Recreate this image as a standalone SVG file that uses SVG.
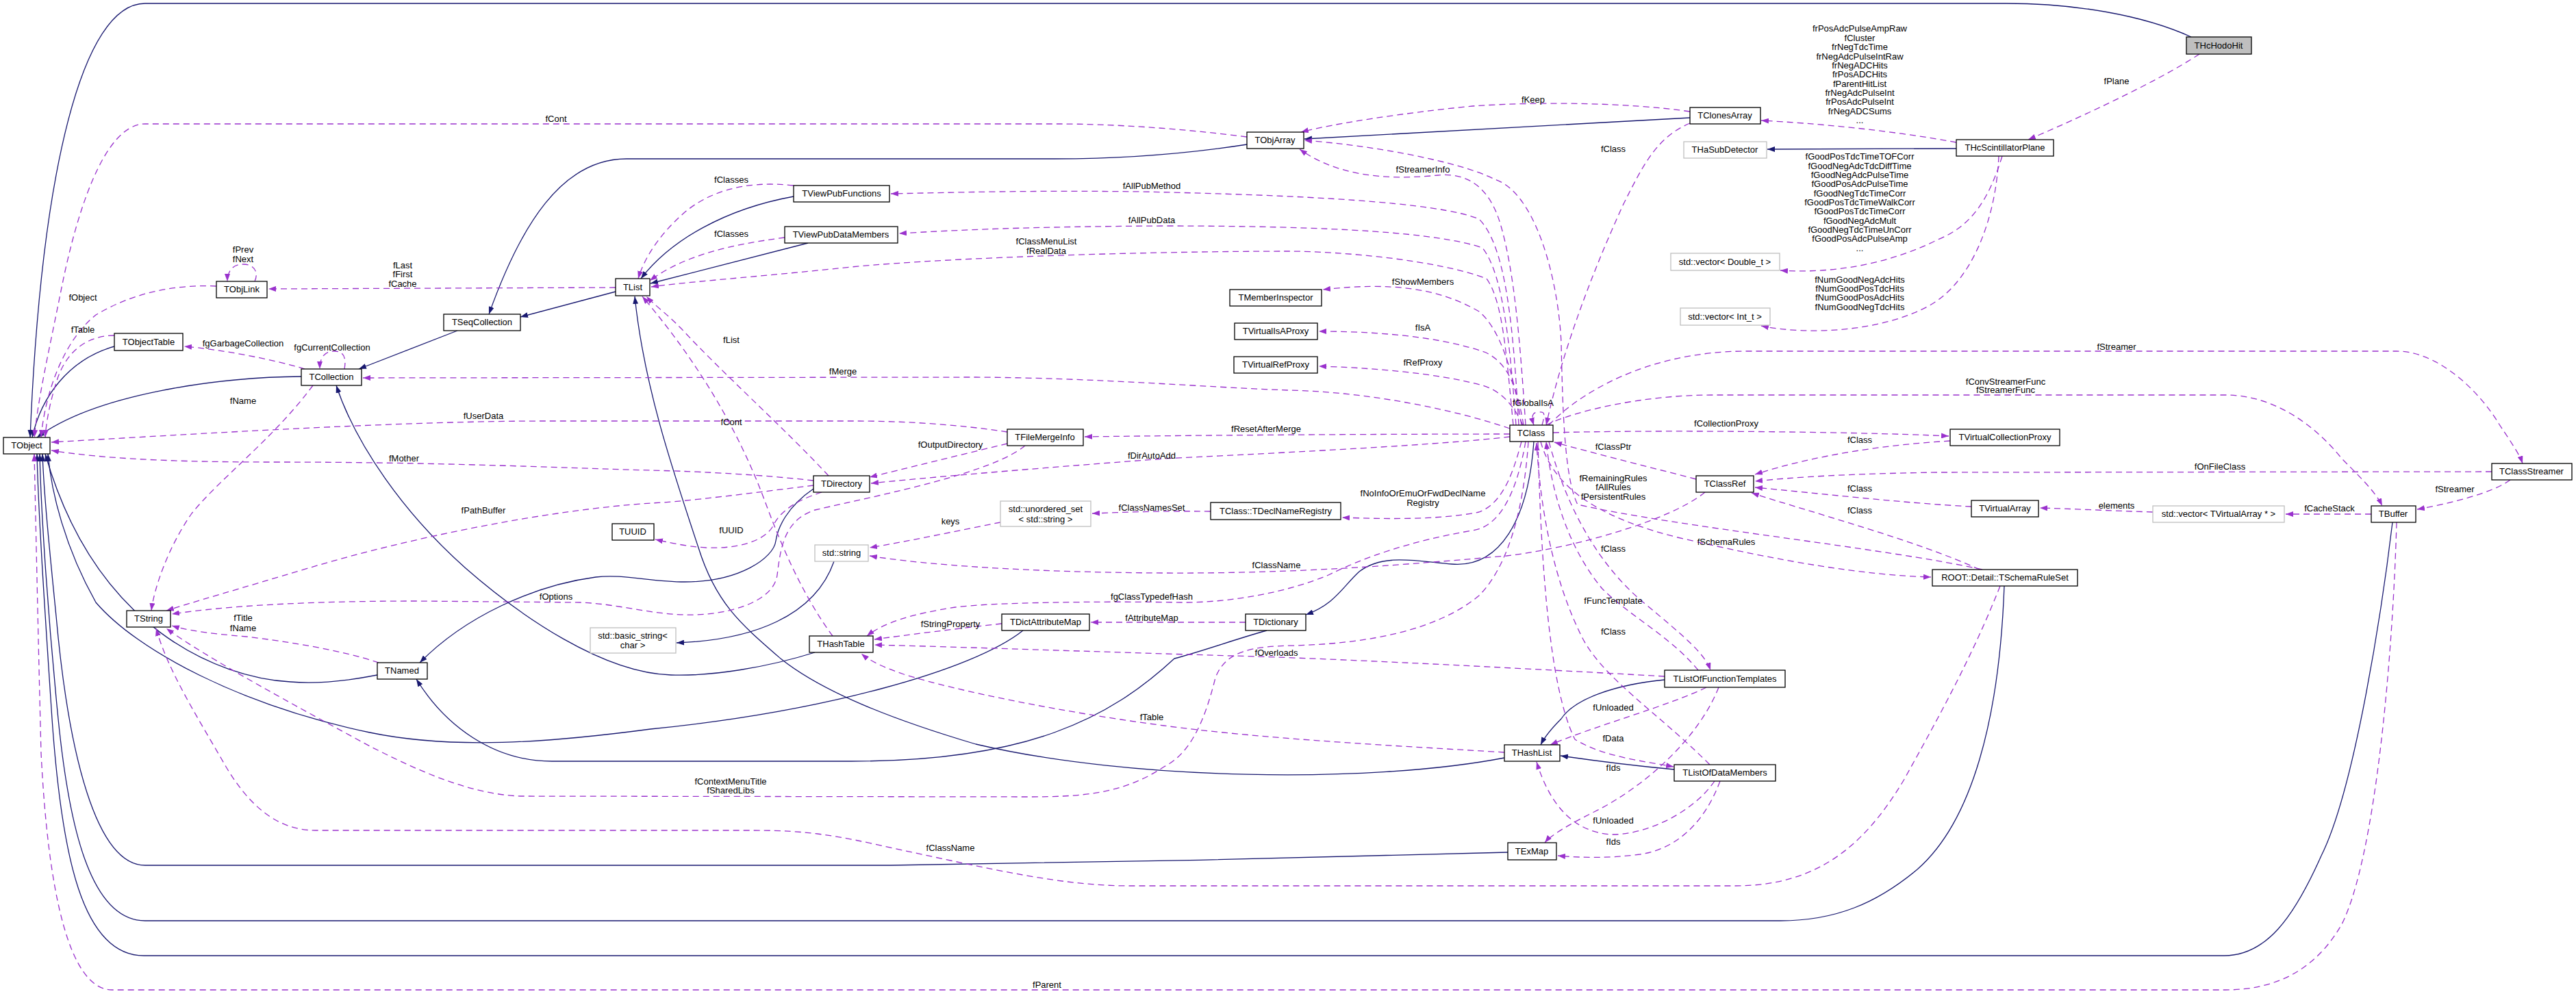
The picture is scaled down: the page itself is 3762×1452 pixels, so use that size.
<svg xmlns="http://www.w3.org/2000/svg" width="3762" height="1452" viewBox="0 0 3762 1452">
<defs>
<marker id="ab" markerUnits="userSpaceOnUse" markerWidth="11" markerHeight="8" refX="11" refY="4" orient="auto"><path d="M0,0 L11,4 L0,8 z" fill="#191970"/></marker>
<marker id="ap" markerUnits="userSpaceOnUse" markerWidth="11" markerHeight="8" refX="11" refY="4" orient="auto"><path d="M0,0 L11,4 L0,8 z" fill="#9a32cd"/></marker>
</defs>
<style>
text{font-family:"Liberation Sans",Arial,sans-serif;font-size:13px;fill:#000;text-anchor:middle}
.n rect{fill:#fff;stroke:#000;stroke-width:1.3}
.g rect{fill:#fff;stroke:#bfbfbf;stroke-width:1.3}
.inh{fill:none;stroke:#191970;stroke-width:1.3;marker-end:url(#ab)}
.use{fill:none;stroke:#9a32cd;stroke-width:1.3;stroke-dasharray:9,6;marker-end:url(#ap)}
</style>
<rect width="3762" height="1452" fill="#fff"/>
<g id="edges">
<path class="inh" d="M3200,54 C3130,22 3030,5 2930,5 L212,5 C120,5 60,250 44,639"/>
<path class="inh" d="M1821,211 C1750,222 1650,232 1540,232 L915,232 C820,232 760,330 714,459"/>
<path class="inh" d="M2468,172 L1905,203"/>
<path class="inh" d="M2857,217 L2581,218"/>
<path class="inh" d="M668,483 L524,539"/>
<path class="inh" d="M899,426 L760,463"/>
<path class="inh" d="M1159,287 C1060,305 980,350 936,407"/>
<path class="inh" d="M1180,355 L950,414"/>
<path class="inh" d="M440,550 C320,551 140,575 54,639"/>
<path class="inh" d="M167,506 C100,525 60,580 47,639"/>
<path class="inh" d="M2240,645 C2232,760 2190,830 2120,824 C2070,820 2020,808 1985,835 C1960,858 1950,882 1907,898"/>
<path class="inh" d="M1850,921 C1800,935 1760,950 1715,962 C1620,1050 1500,1112 1243,1112 L806,1112 C720,1112 650,1060 608,992"/>
<path class="inh" d="M551,986 C500,996 460,999 424,996 C320,990 140,920 66,663"/>
<path class="inh" d="M1188,714 C1150,740 1136,770 1133,790 C1130,815 1080,850 1000,850 C950,850 910,838 870,843 C780,855 680,900 613,968"/>
<path class="inh" d="M1190,953 C1120,975 1040,988 980,986 C880,983 760,900 680,830 C590,750 520,650 491,563"/>
<path class="inh" d="M2197,1107 C2000,1145 1650,1140 1425,1087 C1300,1050 1200,1010 1140,962 C1080,910 1045,880 1020,800 C980,680 940,560 927,433"/>
<path class="inh" d="M2431,993 C2360,1000 2300,1020 2280,1050 C2265,1065 2255,1078 2250,1088"/>
<path class="inh" d="M2445,1124 C2380,1118 2320,1110 2279,1104"/>
<path class="inh" d="M2202,1245 C2000,1252 1500,1262 1300,1264 L212,1264 C140,1264 100,1100 82,900 C72,800 64,720 62,663"/>
<path class="inh" d="M1218,820 C1190,900 1100,935 988,939"/>
<path class="inh" d="M2927,856 C2920,1050 2880,1200 2800,1270 C2740,1320 2680,1345 2600,1345 L212,1345 C130,1345 100,1200 85,1050 C70,900 60,750 58,663"/>
<path class="inh" d="M3494,763 C3480,880 3440,1150 3390,1250 C3350,1340 3310,1396 3248,1396 L210,1396 C120,1396 90,1250 76,1050 C66,900 56,750 54,663"/>
<path class="inh" d="M1494,921 C1420,980 1200,1040 950,1065 C800,1085 660,1095 540,1070 C350,1030 200,950 140,880 C95,800 75,720 70,663"/>

<path class="use" d="M3212,79 C3150,120 3030,175 2962,204"/>
<path class="use" d="M2857,208 C2760,190 2650,180 2572,176"/>
<path class="use" d="M2924,228 C2905,290 2880,330 2830,350 C2760,385 2680,400 2600,395"/>
<path class="use" d="M2919,228 C2915,320 2880,410 2820,445 C2750,485 2640,490 2572,476"/>
<path class="use" d="M2468,163 C2380,150 2250,148 2150,155 C2050,165 1950,180 1900,193"/>
<path class="use" d="M2468,180 C2420,200 2400,240 2370,300 C2320,410 2280,520 2258,621"/>
<path class="use" d="M2228,621 C2220,500 2212,400 2192,330 C2175,270 2140,252 2100,256 C2040,262 1960,262 1898,218"/>
<path class="use" d="M2895,832 C2750,800 2450,770 2304,737 C2285,700 2282,600 2280,500 C2275,400 2240,280 2183,262 C2130,235 2000,212 1905,205"/>
<path class="use" d="M1821,200 C1720,187 1620,181 1546,181 L212,181 C150,181 110,320 90,420 C70,520 56,580 50,639"/>
<path class="use" d="M1159,271 C1080,262 1030,285 1000,310 C960,345 940,380 932,407"/>
<path class="use" d="M1146,347 C1070,357 1000,372 949,410"/>
<path class="use" d="M2218,621 C2210,480 2200,360 2160,320 C2100,295 1900,285 1667,280 C1500,278 1400,281 1301,283"/>
<path class="use" d="M2214,621 C2205,500 2195,400 2165,362 C2100,340 1950,330 1700,330 C1500,331 1400,336 1313,341"/>
<path class="use" d="M2210,621 C2200,520 2195,440 2171,407 C2100,380 1960,367 1880,367 C1700,367 1400,375 1243,390 C1100,405 1000,412 951,419"/>
<path class="use" d="M2222,621 C2210,540 2190,480 2160,455 C2100,420 2030,412 1932,423"/>
<path class="use" d="M2225,621 C2215,560 2200,530 2170,515 C2100,490 2000,484 1926,484"/>
<path class="use" d="M2224,621 C2210,590 2190,570 2165,563 C2100,545 2000,537 1926,535"/>
<path class="use" d="M2252,621 C2258,600 2254,602 2246,602 C2238,602 2236,608 2240,621"/>
<path class="use" d="M2205,626 C2130,600 2000,572 1880,570 C1750,565 1600,552 1425,551 L530,552"/>
<path class="use" d="M2205,634 C2100,634 1800,635 1584,638"/>
<path class="use" d="M2205,638 C2100,650 1900,660 1700,670 C1500,685 1350,698 1272,706"/>
<path class="use" d="M1471,648 C1400,665 1320,685 1270,697"/>
<path class="use" d="M1471,631 C1400,620 1320,615 1250,615 L800,615 C600,615 350,630 75,646"/>
<path class="use" d="M1188,702 C1100,692 1000,688 950,687 C800,683 650,675 400,675 C250,675 150,670 75,658"/>
<path class="use" d="M1188,709 C1100,720 1000,733 950,735 C800,745 600,785 450,830 C350,860 280,880 243,892"/>
<path class="use" d="M1210,695 C1150,630 1050,540 995,480 C970,455 955,445 944,433"/>
<path class="use" d="M1216,929 C1180,880 1150,820 1120,740 C1080,630 1020,530 938,433"/>
<path class="use" d="M1200,719 C1150,735 1135,755 1128,770 C1115,790 1080,802 1031,800 C1000,798 975,792 957,788"/>
<path class="use" d="M1497,651 C1450,690 1300,720 1190,745 C1145,760 1140,800 1135,840 C1130,880 1060,900 1000,898 C950,897 900,882 848,880 L606,878 C450,878 330,885 251,897"/>
<path class="use" d="M457,563 C400,640 320,700 280,750 C245,800 225,860 221,892"/>
<path class="use" d="M445,539 C400,525 320,510 269,506"/>
<path class="use" d="M503,539 C506,522 502,513 488,513 C474,513 467,522 467,539"/>
<path class="use" d="M167,490 C130,490 100,510 85,550 C75,580 68,610 66,639"/>
<path class="use" d="M316,418 C250,415 190,430 140,460 C90,500 65,580 60,639"/>
<path class="use" d="M899,420 L392,422"/>
<path class="use" d="M372,411 C378,398 372,386 355,386 C340,386 332,396 332,411"/>
<path class="use" d="M553,968 C500,950 420,937 360,930 C300,925 270,920 251,914"/>
<path class="use" d="M2921,856 C2880,960 2830,1050 2780,1140 C2720,1240 2650,1294 2534,1294 L1650,1294 C1550,1294 1450,1270 1304,1239 C1220,1220 1180,1213 1100,1213 L461,1213 C400,1213 360,1170 330,1120 C290,1050 245,980 228,918"/>
<path class="use" d="M2232,645 C2225,750 2200,830 2160,870 C2100,920 2000,940 1890,943 C1830,944 1790,950 1775,990 C1760,1050 1740,1100 1700,1120 C1640,1160 1580,1164 1500,1164 L760,1163 C680,1160 600,1120 540,1090 C430,1030 300,960 243,918"/>
<path class="use" d="M2228,645 C2215,720 2190,770 2150,775 C2060,790 1990,815 1940,840 C1880,865 1800,880 1728,880 C1600,878 1450,880 1395,887 C1330,897 1290,910 1266,929"/>
<path class="use" d="M1463,911 C1400,918 1320,928 1277,934"/>
<path class="use" d="M1819,909 L1593,909"/>
<path class="use" d="M2431,988 C2200,975 1950,962 1800,958 C1600,952 1400,945 1277,942"/>
<path class="use" d="M2197,1099 C2050,1090 1850,1080 1700,1060 C1550,1040 1400,1010 1320,985 C1290,975 1270,965 1258,955"/>
<path class="use" d="M2492,1004 C2440,1030 2330,1060 2264,1088"/>
<path class="use" d="M2246,645 C2250,800 2260,1000 2300,1080 C2340,1105 2400,1112 2444,1120"/>
<path class="use" d="M2262,645 C2290,750 2340,830 2400,880 C2460,930 2490,955 2498,979"/>
<path class="use" d="M2480,979 C2440,930 2380,900 2340,860 C2290,800 2266,720 2258,645"/>
<path class="use" d="M2510,1004 C2480,1080 2400,1150 2330,1185 C2290,1205 2265,1220 2256,1231"/>
<path class="use" d="M2504,1141 C2470,1190 2400,1220 2353,1219 C2300,1215 2265,1180 2244,1113"/>
<path class="use" d="M2512,1141 C2490,1200 2450,1240 2395,1248 C2350,1254 2310,1253 2275,1250"/>
<path class="use" d="M2497,1117 C2420,1040 2340,990 2310,930 C2270,850 2250,750 2244,647"/>
<path class="use" d="M2477,700 C2400,680 2320,660 2270,646"/>
<path class="use" d="M2268,632 C2400,628 2700,630 2846,637"/>
<path class="use" d="M2848,644 C2750,650 2650,665 2563,693"/>
<path class="use" d="M3639,689 L2830,690 C2700,692 2620,697 2563,703"/>
<path class="use" d="M2879,740 C2780,735 2650,720 2563,712"/>
<path class="use" d="M2891,832 C2800,790 2650,750 2558,720"/>
<path class="use" d="M2250,645 C2270,720 2350,760 2450,785 C2600,820 2720,840 2820,843"/>
<path class="use" d="M2262,621 C2300,580 2400,513 2550,513 L3500,513 C3560,513 3620,570 3650,620 C3670,650 3680,665 3684,677"/>
<path class="use" d="M2258,621 C2300,600 2400,577 2500,577 L3250,577 C3320,577 3380,620 3420,670 C3450,700 3470,720 3479,739"/>
<path class="use" d="M3666,701 C3640,720 3580,735 3530,744"/>
<path class="use" d="M3463,751 L3338,751"/>
<path class="use" d="M3144,748 C3080,746 3020,743 2979,742"/>
<path class="use" d="M3500,763 C3495,950 3470,1250 3420,1350 C3380,1420 3320,1446 3250,1446 L164,1446 C100,1446 70,1300 60,1100 C55,900 52,750 50,663"/>
<path class="use" d="M2222,645 C2210,690 2195,735 2160,748 C2100,760 2020,758 1960,756"/>
<path class="use" d="M1768,747 C1700,746 1650,748 1595,750"/>
<path class="use" d="M1461,763 C1400,775 1330,790 1270,800"/>
<path class="use" d="M2490,719 C2440,760 2300,800 2200,812 C2050,825 1900,838 1700,837 C1500,836 1350,825 1270,812"/>
</g>
<g id="edge-labels">
<text x="812" y="178">fCont</text>
<text x="355" y="369">fPrev</text><text x="355" y="383">fNext</text>
<text x="588" y="392">fLast</text><text x="588" y="405">fFirst</text><text x="588" y="419">fCache</text>
<text x="121" y="439">fObject</text>
<text x="121" y="486">fTable</text>
<text x="1068" y="267">fClasses</text>
<text x="1068" y="346">fClasses</text>
<text x="1682" y="276">fAllPubMethod</text>
<text x="1682" y="326">fAllPubData</text>
<text x="1528" y="357">fClassMenuList</text><text x="1528" y="371">fRealData</text>
<text x="2239" y="150">fKeep</text>
<text x="2356" y="222">fClass</text>
<text x="2078" y="252">fStreamerInfo</text>
<text x="2078" y="416">fShowMembers</text>
<text x="2078" y="483">fIsA</text>
<text x="2716" y="46">frPosAdcPulseAmpRaw</text>
<text x="2716" y="60">fCluster</text>
<text x="2716" y="73">frNegTdcTime</text>
<text x="2716" y="87">frNegAdcPulseIntRaw</text>
<text x="2716" y="100">frNegADCHits</text>
<text x="2716" y="113">frPosADCHits</text>
<text x="2716" y="127">fParentHitList</text>
<text x="2716" y="140">frNegAdcPulseInt</text>
<text x="2716" y="153">frPosAdcPulseInt</text>
<text x="2716" y="167">frNegADCSums</text>
<text x="2716" y="180">...</text>
<text x="2716" y="233">fGoodPosTdcTimeTOFCorr</text>
<text x="2716" y="247">fGoodNegAdcTdcDiffTime</text>
<text x="2716" y="260">fGoodNegAdcPulseTime</text>
<text x="2716" y="273">fGoodPosAdcPulseTime</text>
<text x="2716" y="287">fGoodNegTdcTimeCorr</text>
<text x="2716" y="300">fGoodPosTdcTimeWalkCorr</text>
<text x="2716" y="313">fGoodPosTdcTimeCorr</text>
<text x="2716" y="327">fGoodNegAdcMult</text>
<text x="2716" y="340">fGoodNegTdcTimeUnCorr</text>
<text x="2716" y="353">fGoodPosAdcPulseAmp</text>
<text x="2716" y="367">...</text>
<text x="2716" y="413">fNumGoodNegAdcHits</text>
<text x="2716" y="426">fNumGoodPosTdcHits</text>
<text x="2716" y="439">fNumGoodPosAdcHits</text>
<text x="2716" y="453">fNumGoodNegTdcHits</text>
<text x="3091" y="123">fPlane</text>
<text x="355" y="506">fgGarbageCollection</text>
<text x="485" y="512">fgCurrentCollection</text>
<text x="355" y="590">fName</text>
<text x="706" y="612">fUserData</text>
<text x="590" y="674">fMother</text>
<text x="706" y="750">fPathBuffer</text>
<text x="812" y="876">fOptions</text>
<text x="355" y="907">fTitle</text><text x="355" y="922">fName</text>
<text x="1068" y="501">fList</text>
<text x="1231" y="547">fMerge</text>
<text x="1068" y="621">fCont</text>
<text x="1849" y="631">fResetAfterMerge</text>
<text x="1388" y="654">fOutputDirectory</text>
<text x="1682" y="670">fDirAutoAdd</text>
<text x="1682" y="746">fClassNamesSet</text>
<text x="1388" y="766">keys</text>
<text x="1068" y="779">fUUID</text>
<text x="1864" y="830">fClassName</text>
<text x="1682" y="876">fgClassTypedefHash</text>
<text x="1388" y="916">fStringProperty</text>
<text x="1682" y="907">fAttributeMap</text>
<text x="1864" y="958">fOverloads</text>
<text x="2078" y="534">fRefProxy</text>
<text x="2239" y="593">fGlobalIsA</text>
<text x="2521" y="623">fCollectionProxy</text>
<text x="2356" y="657">fClassPtr</text>
<text x="2716" y="647">fClass</text>
<text x="2356" y="703">fRemainingRules</text><text x="2356" y="716">fAllRules</text><text x="2356" y="730">fPersistentRules</text>
<text x="2716" y="718">fClass</text>
<text x="2716" y="750">fClass</text>
<text x="2078" y="725">fNoInfoOrEmuOrFwdDeclName</text><text x="2078" y="739">Registry</text>
<text x="2521" y="796">fSchemaRules</text>
<text x="2356" y="806">fClass</text>
<text x="2356" y="882">fFuncTemplate</text>
<text x="2356" y="927">fClass</text>
<text x="3091" y="511">fStreamer</text>
<text x="2929" y="562">fConvStreamerFunc</text><text x="2929" y="574">fStreamerFunc</text>
<text x="3242" y="686">fOnFileClass</text>
<text x="3585" y="719">fStreamer</text>
<text x="3091" y="743">elements</text>
<text x="3402" y="747">fCacheStack</text>
<text x="2356" y="1038">fUnloaded</text>
<text x="2356" y="1083">fData</text>
<text x="2356" y="1126">fIds</text>
<text x="2356" y="1203">fUnloaded</text>
<text x="2356" y="1234">fIds</text>
<text x="1067" y="1146">fContextMenuTitle</text><text x="1067" y="1159">fSharedLibs</text>
<text x="1682" y="1052">fTable</text>
<text x="1388" y="1243">fClassName</text>
<text x="1529" y="1443">fParent</text>
</g>
<g id="node-THcHodoHit" class="n"><rect x="3193" y="54" width="95" height="25" style="fill:#bfbfbf"/><text x="3240" y="71">THcHodoHit</text></g>
<g id="node-THcScintillatorPlane" class="n"><rect x="2857" y="204" width="142" height="24"/><text x="2928" y="220">THcScintillatorPlane</text></g>
<g id="node-TClonesArray" class="n"><rect x="2468" y="157" width="103" height="24"/><text x="2519" y="173">TClonesArray</text></g>
<g id="node-THaSubDetector" class="g"><rect x="2459" y="207" width="121" height="24"/><text x="2519" y="223">THaSubDetector</text></g>
<g id="node-vecDouble" class="g"><rect x="2440" y="370" width="159" height="25"/><text x="2519" y="387">std::vector&lt; Double_t &gt;</text></g>
<g id="node-vecInt" class="g"><rect x="2454" y="450" width="131" height="25"/><text x="2519" y="467">std::vector&lt; Int_t &gt;</text></g>
<g id="node-TObjArray" class="n"><rect x="1821" y="193" width="83" height="24"/><text x="1862" y="209">TObjArray</text></g>
<g id="node-TViewPubFunctions" class="n"><rect x="1159" y="271" width="140" height="24"/><text x="1229" y="287">TViewPubFunctions</text></g>
<g id="node-TViewPubDataMembers" class="n"><rect x="1146" y="331" width="165" height="24"/><text x="1228" y="347">TViewPubDataMembers</text></g>
<g id="node-TMemberInspector" class="n"><rect x="1796" y="423" width="134" height="24"/><text x="1863" y="439">TMemberInspector</text></g>
<g id="node-TVirtualIsAProxy" class="n"><rect x="1803" y="472" width="121" height="24"/><text x="1863" y="488">TVirtualIsAProxy</text></g>
<g id="node-TVirtualRefProxy" class="n"><rect x="1802" y="521" width="122" height="24"/><text x="1863" y="537">TVirtualRefProxy</text></g>
<g id="node-TObjLink" class="n"><rect x="316" y="411" width="74" height="24"/><text x="353" y="427">TObjLink</text></g>
<g id="node-TList" class="n"><rect x="899" y="407" width="50" height="25"/><text x="924" y="424">TList</text></g>
<g id="node-TSeqCollection" class="n"><rect x="648" y="459" width="112" height="24"/><text x="704" y="475">TSeqCollection</text></g>
<g id="node-TObjectTable" class="n"><rect x="167" y="487" width="100" height="25"/><text x="217" y="504">TObjectTable</text></g>
<g id="node-TCollection" class="n"><rect x="440" y="539" width="88" height="24"/><text x="484" y="555">TCollection</text></g>
<g id="node-TObject" class="n"><rect x="5" y="639" width="68" height="24"/><text x="39" y="655">TObject</text></g>
<g id="node-TString" class="n"><rect x="185" y="892" width="64" height="24"/><text x="217" y="908">TString</text></g>
<g id="node-TUUID" class="n"><rect x="894" y="765" width="61" height="24"/><text x="924" y="781">TUUID</text></g>
<g id="node-basic_string" class="g"><rect x="862" y="917" width="125" height="37"/><text x="924" y="933">std::basic_string&lt;</text><text x="924" y="947">char &gt;</text></g>
<g id="node-TNamed" class="n"><rect x="551" y="968" width="73" height="24"/><text x="587" y="984">TNamed</text></g>
<g id="node-TFileMergeInfo" class="n"><rect x="1471" y="627" width="111" height="24"/><text x="1526" y="643">TFileMergeInfo</text></g>
<g id="node-TDirectory" class="n"><rect x="1188" y="695" width="82" height="24"/><text x="1229" y="711">TDirectory</text></g>
<g id="node-unordered_set" class="g"><rect x="1461" y="732" width="132" height="37"/><text x="1527" y="748">std::unordered_set</text><text x="1527" y="763">&lt; std::string &gt;</text></g>
<g id="node-TDeclNameRegistry" class="n"><rect x="1768" y="734" width="190" height="25"/><text x="1863" y="751">TClass::TDeclNameRegistry</text></g>
<g id="node-std_string" class="g"><rect x="1190" y="796" width="78" height="24"/><text x="1229" y="812">std::string</text></g>
<g id="node-TDictAttributeMap" class="n"><rect x="1463" y="897" width="128" height="24"/><text x="1527" y="913">TDictAttributeMap</text></g>
<g id="node-TDictionary" class="n"><rect x="1819" y="897" width="88" height="24"/><text x="1863" y="913">TDictionary</text></g>
<g id="node-THashTable" class="n"><rect x="1182" y="929" width="93" height="24"/><text x="1228" y="945">THashTable</text></g>
<g id="node-TClass" class="n"><rect x="2205" y="621" width="63" height="24"/><text x="2236" y="637">TClass</text></g>
<g id="node-TClassRef" class="n"><rect x="2477" y="695" width="84" height="24"/><text x="2519" y="711">TClassRef</text></g>
<g id="node-TVirtualCollectionProxy" class="n"><rect x="2848" y="627" width="160" height="24"/><text x="2928" y="643">TVirtualCollectionProxy</text></g>
<g id="node-TClassStreamer" class="n"><rect x="3639" y="677" width="117" height="24"/><text x="3697" y="693">TClassStreamer</text></g>
<g id="node-TVirtualArray" class="n"><rect x="2879" y="731" width="98" height="24"/><text x="2928" y="747">TVirtualArray</text></g>
<g id="node-vecTVirtualArray" class="g"><rect x="3144" y="739" width="192" height="24"/><text x="3240" y="755">std::vector&lt; TVirtualArray * &gt;</text></g>
<g id="node-TBuffer" class="n"><rect x="3463" y="739" width="65" height="24"/><text x="3495" y="755">TBuffer</text></g>
<g id="node-TSchemaRuleSet" class="n"><rect x="2822" y="832" width="212" height="24"/><text x="2928" y="848">ROOT::Detail::TSchemaRuleSet</text></g>
<g id="node-TListOfFunctionTemplates" class="n"><rect x="2431" y="979" width="176" height="25"/><text x="2519" y="996">TListOfFunctionTemplates</text></g>
<g id="node-THashList" class="n"><rect x="2197" y="1088" width="81" height="24"/><text x="2237" y="1104">THashList</text></g>
<g id="node-TListOfDataMembers" class="n"><rect x="2445" y="1117" width="148" height="24"/><text x="2519" y="1133">TListOfDataMembers</text></g>
<g id="node-TExMap" class="n"><rect x="2202" y="1231" width="71" height="25"/><text x="2237" y="1248">TExMap</text></g>
</svg>
